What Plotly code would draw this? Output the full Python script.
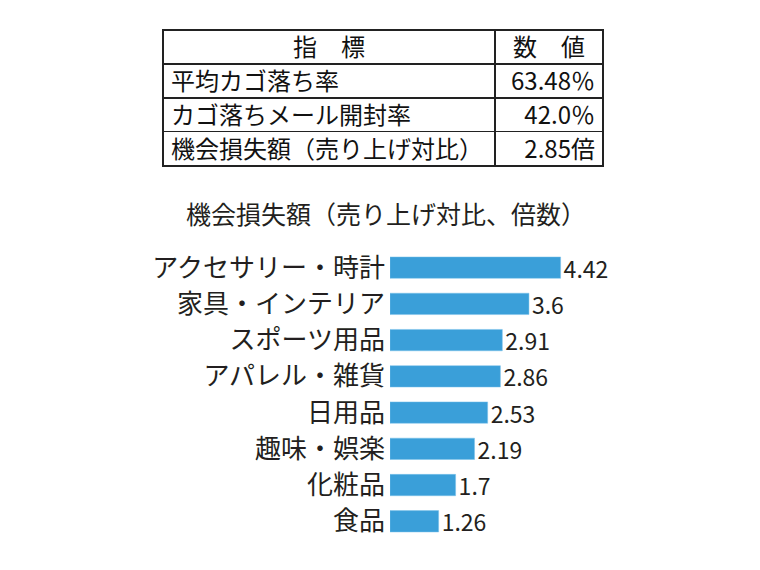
import plotly.graph_objects as go

# table data
table_header = ["指　標", "数　値"]
table_labels = ["平均カゴ落ち率", "カゴ落ちメール開封率", "機会損失額（売り上げ対比）"]
table_values = ["63.48％", "42.0％", "2.85倍"]

# bar chart data
categories = ["アクセサリー・時計", "家具・インテリア", "スポーツ用品", "アパレル・雑貨",
              "日用品", "趣味・娯楽", "化粧品", "食品"]
loss_ratio = [4.42, 3.6, 2.91, 2.86, 2.53, 2.19, 1.7, 1.26]

chart_title = "機会損失額（売り上げ対比、倍数）"

W, H = 760, 570
OFF = 8  # page body margin
font_jp = "Noto Sans CJK JP"
ink = "#231f20"


def px(x):
    return (x - OFF) / W


def py(y):
    return 1 - (y - OFF) / H


fig = go.Figure()

fig.add_trace(go.Table(
    domain=dict(x=[px(163), px(603)], y=[0.55, py(27)]),
    columnwidth=[332, 108],
    header=dict(
        values=table_header,
        align="center",
        height=34,
        line=dict(color="#222", width=1.2),
        fill=dict(color="white"),
        font=dict(family=font_jp, size=24, color="#111"),
    ),
    cells=dict(
        values=[table_labels, table_values],
        align=["left", "right"],
        height=34,
        line=dict(color="#222", width=1.2),
        fill=dict(color="white"),
        font=dict(family=font_jp, size=24, color="#111"),
    ),
))

fig.add_trace(go.Bar(
    x=loss_ratio,
    y=categories,
    orientation="h",
    marker=dict(color="#3a9fd9", line=dict(color="#7cc3ea", width=0.5)),
    text=[str(v) for v in loss_ratio],
    textposition="outside",
    constraintext="none",
    textfont=dict(family=font_jp, size=23, color=ink),
    cliponaxis=False,
    hoverinfo="skip",
))

fig.update_layout(
    width=W,
    height=H,
    margin=dict(l=0, r=0, t=0, b=0),
    paper_bgcolor="white",
    plot_bgcolor="white",
    showlegend=False,
    bargap=0.41,
    font=dict(family=font_jp, color=ink),
    title=dict(
        text=chart_title,
        x=px(386),
        xanchor="center",
        y=py(215),
        yanchor="middle",
        font=dict(family=font_jp, size=25, color=ink),
    ),
    xaxis=dict(
        domain=[px(390), px(620)],
        range=[0, 230 / 38.6],
        visible=False,
    ),
    yaxis=dict(
        domain=[py(539.2), py(247.8)],
        autorange="reversed",
        showgrid=False,
        zeroline=False,
        showline=False,
        ticks="",
        ticklabelstandoff=4,
        tickfont=dict(family=font_jp, size=26, color=ink),
    ),
)

fig.write_html("out.html")
